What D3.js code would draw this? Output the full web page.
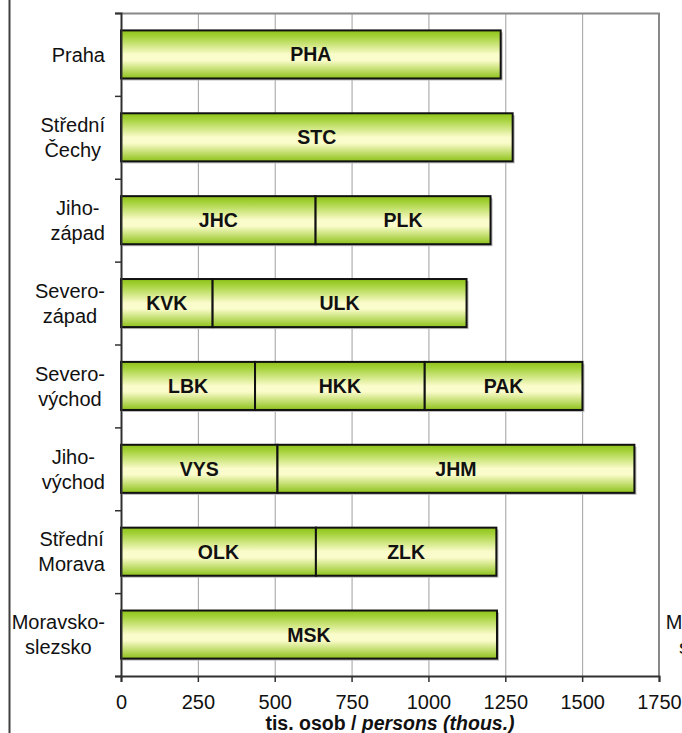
<!DOCTYPE html>
<html>
<head>
<meta charset="utf-8">
<script src="https://d3js.org/d3.v7.min.js"></script>
<style>
  body { margin: 0; background: #fff; }
  svg text { font-family: "Liberation Sans", Arial, sans-serif; }
</style>
</head>
<body>
<svg id="drawing_region"></svg>
<script>
// region names (split in lines as in the picture)
const regions = [
  ["Praha"], ["Střední", "Čechy"], ["Jiho-", "západ"], ["Severo-", "západ"],
  ["Severo-", "východ"], ["Jiho-", "východ"], ["Střední", "Morava"], ["Moravsko-", "slezsko"]
];
// kraje inside each region
const kraje = [
  ["PHA"], ["STC"], ["JHC", "PLK"], ["KVK", "ULK"],
  ["LBK", "HKK", "PAK"], ["VYS", "JHM"], ["OLK", "ZLK"], ["MSK"]
];
// population, thousands
const population = [
  [1235], [1274], [633, 569], [298, 826],
  [436, 552, 513], [509, 1161], [634, 587], [1223]
];
const xTicks = [0, 250, 500, 750, 1000, 1250, 1500, 1750];
const xTitle = "tis. osob / ";
const xTitleItalic = "persons (thous.)";

class StackedBars {

  constructor( config ) {
    this.config = {
      parent: config.parent,
      width: config.width || 682,
      height: config.height || 733,
      margin: config.margin || {top:13, right:23, bottom:57, left:121}
    }
    this.init();
  }

  init() {
    let self = this;

    self.svg = d3.select( self.config.parent )
      .attr('width', self.config.width)
      .attr('height', self.config.height);

    self.chart_width = self.config.width - self.config.margin.left - self.config.margin.right;
    self.chart_height = self.config.height - self.config.margin.top - self.config.margin.bottom;

    self.chart = self.svg.append('g')
      .attr('transform', `translate(${self.config.margin.left}, ${self.config.margin.top})`);

    self.x_scale = d3.scaleLinear()
      .domain( [0, 1750] )
      .range( [0, self.chart_width] );

    self.y_scale = d3.scaleBand()
      .domain( d3.range(regions.length) )
      .range( [0, self.chart_height] )
      .paddingInner(0.42)
      .paddingOuter(0.21);

    // ticks between the regions
    self.y_ticks = d3.scaleLinear()
      .domain( [0, regions.length] )
      .range( [0, self.chart_height] );

    const grad = self.svg.append('defs').append('linearGradient')
      .attr('id', 'barfill')
      .attr('x1', 0).attr('y1', 0).attr('x2', 0).attr('y2', 1);
    grad.append('stop').attr('offset', '0%').attr('stop-color', '#8ec21a');
    grad.append('stop').attr('offset', '12%').attr('stop-color', '#a3d137');
    grad.append('stop').attr('offset', '50%').attr('stop-color', '#fbfccb');
    grad.append('stop').attr('offset', '62%').attr('stop-color', '#fbfccb');
    grad.append('stop').attr('offset', '100%').attr('stop-color', '#8ec21a');
  }

  render() {
    let self = this;
    const W = self.chart_width, H = self.chart_height;

    // outer frame line at the left
    self.svg.append('line')
      .attr('x1', 9.5).attr('x2', 9.5)
      .attr('y1', 0).attr('y2', self.config.height)
      .attr('stroke', '#404040').attr('stroke-width', 2);

    // grid
    self.chart.append('g')
      .call( d3.axisBottom(self.x_scale).tickValues(xTicks.slice(1, -1)).tickSize(H).tickFormat('') )
      .call( g => g.select('.domain').remove() )
      .call( g => g.selectAll('line').attr('stroke', '#a0a0a0') );

    // plot border top and right
    self.chart.append('path')
      .attr('d', `M0,0.5H${W}V${H}`)
      .attr('fill', 'none')
      .attr('stroke', '#888')
      .attr('stroke-width', 2);

    // bars
    const rows = population.map( (vals, i) => {
      let acc = 0;
      return vals.map( (v, j) => {
        const seg = { row: i, x0: acc, x1: acc + v, name: kraje[i][j] };
        acc += v;
        return seg;
      });
    });

    const row_g = self.chart.selectAll('.row')
      .data(rows)
      .join('g')
      .attr('class', 'row')
      .attr('transform', (d, i) => `translate(0, ${self.y_scale(i)})`);

    // shadow
    row_g.append('rect')
      .attr('x', 2)
      .attr('y', 2)
      .attr('width', d => self.x_scale(d[d.length - 1].x1))
      .attr('height', self.y_scale.bandwidth())
      .attr('fill', '#b8b8b8');

    row_g.selectAll('rect.seg')
      .data(d => d)
      .join('rect')
      .attr('class', 'seg')
      .attr('x', d => self.x_scale(d.x0))
      .attr('y', 0)
      .attr('width', d => self.x_scale(d.x1) - self.x_scale(d.x0))
      .attr('height', self.y_scale.bandwidth())
      .attr('fill', 'url(#barfill)')
      .attr('stroke', '#111')
      .attr('stroke-width', 2);

    row_g.selectAll('text')
      .data(d => d)
      .join('text')
      .attr('x', d => (self.x_scale(d.x0) + self.x_scale(d.x1)) / 2)
      .attr('y', self.y_scale.bandwidth() / 2)
      .attr('dy', '0.36em')
      .attr('text-anchor', 'middle')
      .attr('font-size', 19.5)
      .attr('font-weight', 'bold')
      .attr('fill', '#111')
      .text(d => d.name);

    // x axis
    const x_axis = self.chart.append('g')
      .attr('transform', `translate(0, ${H})`)
      .call( d3.axisBottom(self.x_scale).tickValues(xTicks).tickSize(6).tickPadding(13).tickFormat(d3.format('d')) );
    x_axis.select('.domain').attr('stroke', '#303030').attr('stroke-width', 2);
    x_axis.selectAll('line').attr('stroke', '#303030').attr('stroke-width', 1.5);
    x_axis.selectAll('text')
      .attr('font-size', 20)
      .attr('fill', '#111')
      .attr('font-family', '"Liberation Sans", Arial, sans-serif');

    // y axis
    const y_axis = self.chart.append('g')
      .call( d3.axisLeft(self.y_ticks).tickValues(d3.range(regions.length + 1)).tickSize(6).tickFormat('') );
    y_axis.select('.domain').attr('stroke', '#303030').attr('stroke-width', 2);
    y_axis.selectAll('line').attr('stroke', '#303030').attr('stroke-width', 1.5);

    // category labels: right edge of block near axis, lines centred in block
    self.drawLabels(-16);
    // secondary labels at the right, cut by the picture edge
    self.drawLabels(W + 100);

    // axis title
    const title = self.chart.append('text')
      .attr('x', W / 2)
      .attr('y', H + 54)
      .attr('text-anchor', 'middle')
      .attr('font-size', 19.5)
      .attr('font-weight', 'bold')
      .attr('fill', '#111');
    title.append('tspan').text(xTitle);
    title.append('tspan').attr('font-style', 'italic').text(xTitleItalic);
  }

  drawLabels(edge) {
    let self = this;
    const line_h = 25;
    const limit = self.config.width - self.config.margin.left;
    const groups = self.chart.append('g')
      .selectAll('g')
      .data(regions)
      .join('g');

    groups.each( function(lines, i) {
      const g = d3.select(this);
      const texts = g.selectAll('text')
        .data(lines)
        .join('text')
        .attr('font-size', 20)
        .attr('fill', '#111')
        .attr('text-anchor', 'middle')
        .text(d => d);
      let block = 0;
      texts.each( function() { block = Math.max(block, this.getComputedTextLength()); });
      const cx = edge - block / 2;
      const cy = self.y_scale(i) + self.y_scale.bandwidth() / 2;
      const top = cy - (lines.length - 1) * line_h / 2;
      texts
        .attr('x', cx)
        .attr('y', (d, k) => top + k * line_h)
        .attr('dy', '0.36em');
      // drop lines that fall completely outside the picture
      texts.filter( function() { return cx - this.getComputedTextLength() / 2 >= limit; }).remove();
    });
  }
}

const chart = new StackedBars({
  parent: '#drawing_region',
  width: 682,
  height: 733,
  margin: {top:13, right:23, bottom:57, left:121}
});
chart.render();
</script>
</body>
</html>
